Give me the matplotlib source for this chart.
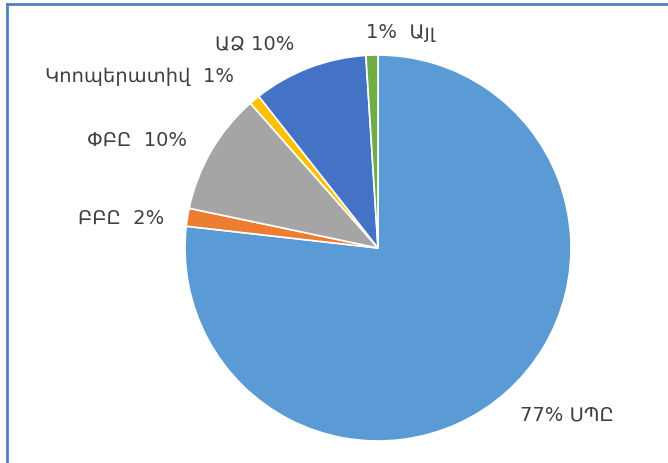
import matplotlib.pyplot as plt
from matplotlib.lines import Line2D

# legal forms, share of entities (%)
categories = ['ՍՊԸ', 'ԲԲԸ', 'ՓԲԸ', 'Կոոպերատիվ', 'ԱՁ', 'Այլ']
shares = [76.8, 1.5, 10.2, 0.9, 9.6, 1.0]
label_texts = ['77% ՍՊԸ', 'ԲԲԸ  2%', 'ՓԲԸ  10%', 'Կոոպերատիվ  1%', 'ԱՁ 10%', '1%  Այլ']
colors = ['#5B9BD5', '#ED7D31', '#A5A5A5', '#FFC000', '#4472C4', '#70AD47']

# where each label sits, in units of the pie radius
label_pos = [(0.98, -0.865), (-1.33, 0.155), (-1.25, 0.56),
             (-1.235, 0.89), (-0.64, 1.057), (0.115, 1.114)]

plt.rcParams['font.family'] = ['DejaVu Sans']

fig = plt.figure(figsize=(6.68, 4.63), dpi=100)
ax = fig.add_axes([0, 0, 1, 1])

wedges, _ = ax.pie(shares, colors=colors, startangle=90, counterclock=False,
                   radius=1.0, wedgeprops=dict(edgecolor='white', linewidth=1.2))

for txt, (x, y) in zip(label_texts, label_pos):
    ax.text(x, y, txt, ha='center', va='center', fontsize=14, color='#404040')

# map pie so that the center lands at about (378, 248) px with radius 193 px
r = 193.0
ax.set_xlim(-378 / r, (668 - 378) / r)
ax.set_ylim(-(463 - 248) / r, 248 / r)
ax.set_aspect('auto')
ax.axis('off')

# blue frame on the left and top edges
fig.add_artist(Line2D([6.5 / 668, 6.5 / 668], [0, 1 - 3.5 / 463], color='#4F81BD',
                      linewidth=2, transform=fig.transFigure))
fig.add_artist(Line2D([6.5 / 668, 1], [1 - 3.5 / 463, 1 - 3.5 / 463], color='#4F81BD',
                      linewidth=2, transform=fig.transFigure))

fig.savefig('out.png', dpi=100)
